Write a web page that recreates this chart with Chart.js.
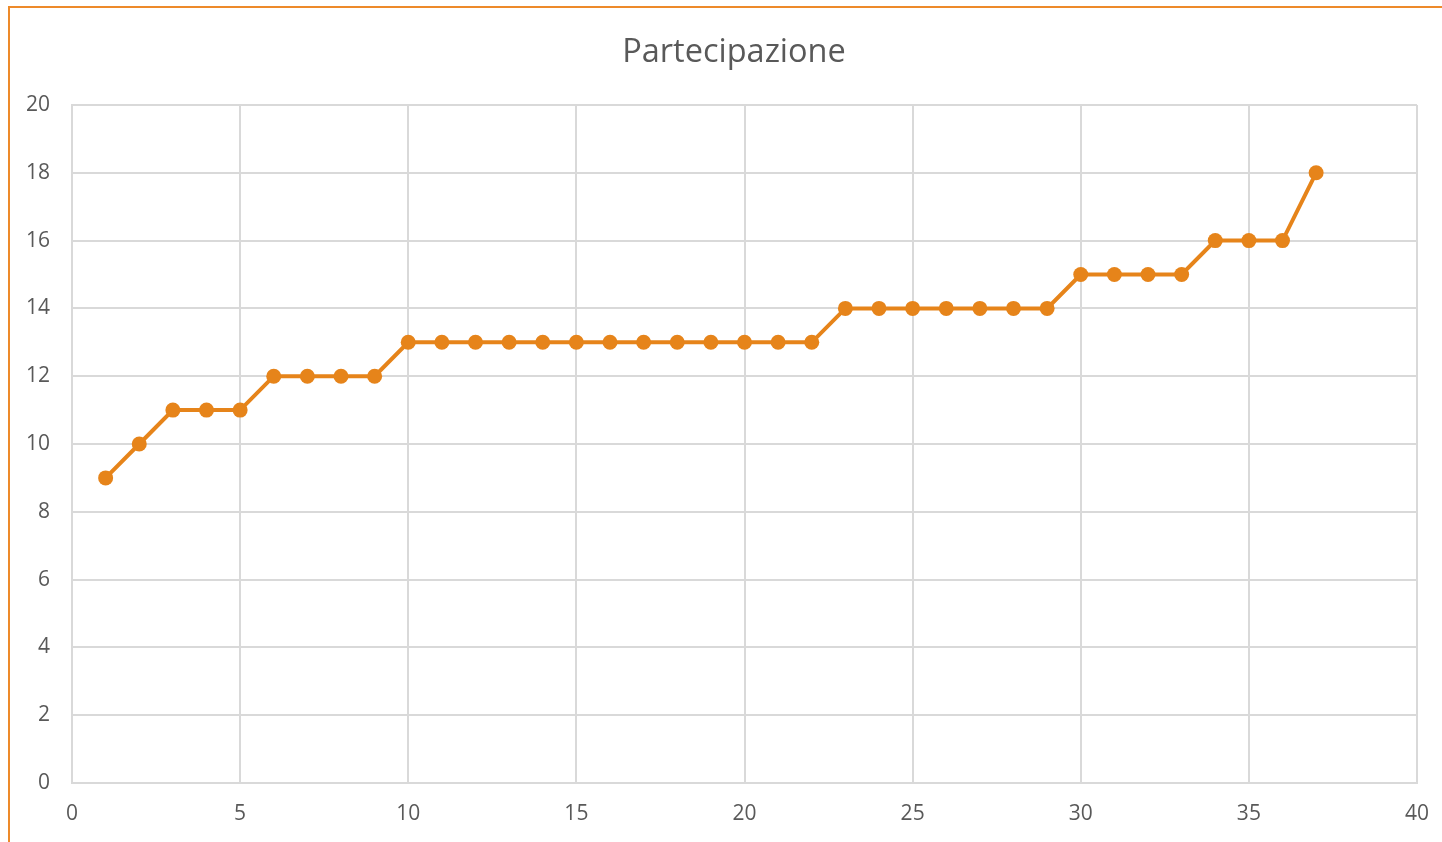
<!DOCTYPE html>
<html>
<head>
<meta charset="utf-8">
<title>Partecipazione</title>
<script src="https://cdn.jsdelivr.net/npm/chart.js@4/dist/chart.umd.min.js"></script>
<style>
    body { margin: 0; background: #fff; overflow: hidden; }
    #cornice {
        position: absolute; left: 8px; top: 6px;
        width: 1500px; height: 900px;
        border: 2px solid #ED8A2A;
        box-sizing: border-box;
    }
    #contenitore { position: absolute; left: 0; top: 0; width: 1442px; height: 842px; }
</style>
</head>
<body>
<div id="cornice"></div>
<div id="contenitore"><canvas id="grafico" width="1442" height="842"></canvas></div>
<script>
// dati
const titolo = 'Partecipazione';
const giorni = [1, 2, 3, 4, 5, 6, 7, 8, 9, 10, 11, 12, 13, 14, 15, 16, 17, 18, 19, 20,
    21, 22, 23, 24, 25, 26, 27, 28, 29, 30, 31, 32, 33, 34, 35, 36, 37];
const partecipanti = [9, 10, 11, 11, 11, 12, 12, 12, 12, 13, 13, 13, 13, 13, 13, 13, 13, 13, 13, 13,
    13, 13, 14, 14, 14, 14, 14, 14, 14, 15, 15, 15, 15, 16, 16, 16, 18];
const asseX = { min: 0, max: 40, passo: 5 };
const asseY = { min: 0, max: 20, passo: 2 };

const arancio = '#E6841A';
const grigioTesto = '#595959';
const grigioGriglia = '#D9D9D9';

const punti = giorni.map((g, i) => ({ x: g, y: partecipanti[i] }));

// sposta un po' il titolo a destra, come nell'originale
const spostaTitolo = {
    id: 'spostaTitolo',
    afterLayout(chart) {
        if (chart.titleBlock) {
            chart.titleBlock.left = 26;
            chart.titleBlock.right = chart.width;
        }
    }
};

const ctx = document.getElementById('grafico').getContext('2d');
new Chart(ctx, {
    type: 'line',
    data: {
        datasets: [{
            label: titolo,
            data: punti,
            borderColor: arancio,
            backgroundColor: arancio,
            borderWidth: 4,
            pointRadius: 7.5,
            pointHoverRadius: 7.5,
            pointBorderWidth: 0,
            tension: 0
        }]
    },
    plugins: [spostaTitolo],
    options: {
        responsive: false,
        animation: false,
        layout: { padding: { left: 0, right: 25, top: 0, bottom: 0 } },
        plugins: {
            legend: { display: false },
            tooltip: { enabled: false },
            title: {
                display: true,
                text: titolo,
                color: grigioTesto,
                font: { family: 'Open Sans', size: 32.5, weight: 'normal' },
                padding: { top: 33, bottom: 33 }
            }
        },
        scales: {
            x: {
                type: 'linear',
                min: asseX.min,
                max: asseX.max,
                afterFit: s => {
                    s.height = 59;
                    s.paddingLeft = 0;
                    s.paddingRight = 0;
                },
                ticks: {
                    stepSize: asseX.passo,
                    color: grigioTesto,
                    font: { family: 'Open Sans', size: 21 },
                    padding: 18,
                    maxRotation: 0
                },
                grid: { color: grigioGriglia, lineWidth: 2, drawTicks: false },
                border: { color: grigioGriglia, width: 2 }
            },
            y: {
                min: asseY.min,
                max: asseY.max,
                afterFit: s => { s.width = 72; },
                ticks: {
                    stepSize: asseY.passo,
                    color: grigioTesto,
                    font: { family: 'Open Sans', size: 21 },
                    padding: 22
                },
                grid: { color: grigioGriglia, lineWidth: 2, drawTicks: false },
                border: { color: grigioGriglia, width: 2 }
            }
        }
    }
});
</script>
</body>
</html>
